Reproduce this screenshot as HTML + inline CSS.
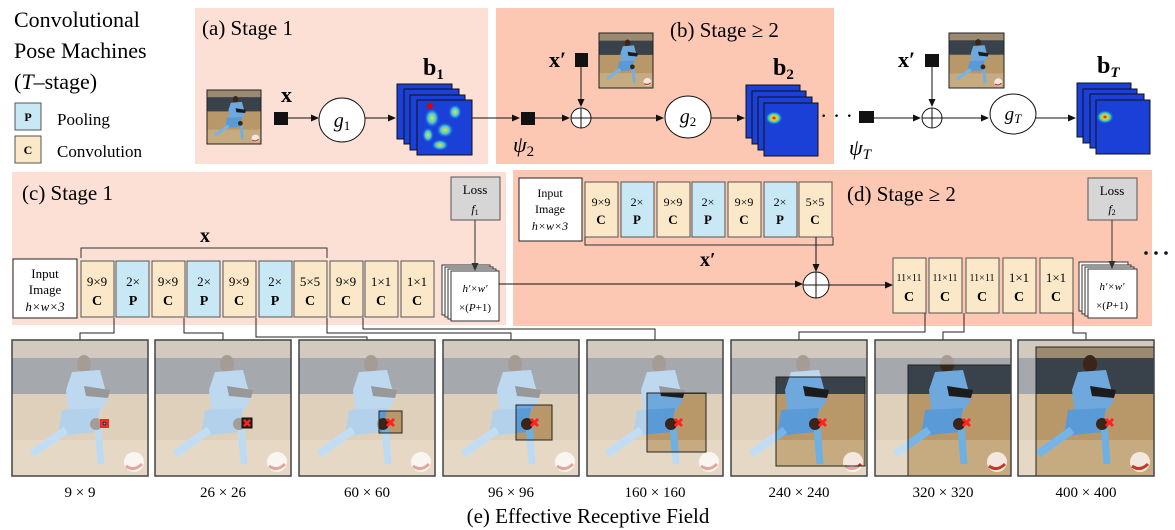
<!DOCTYPE html>
<html><head><meta charset="utf-8"><style>
html,body{margin:0;padding:0;background:#fff;}
svg{display:block;font-family:"Liberation Serif",serif;}
</style></head><body>
<svg width="1175" height="530" viewBox="0 0 1175 530" xmlns="http://www.w3.org/2000/svg">
<defs>
<symbol id="ph" viewBox="0 0 136 136">
<rect width="136" height="136" fill="#bf9f72"/>
<rect width="136" height="22" fill="#9c8a70"/>
<rect y="18" width="136" height="36" fill="#39424b"/>
<rect y="54" width="136" height="82" fill="#b89868"/>
<rect y="100" width="136" height="36" fill="#c6ab80"/>
<ellipse cx="72" cy="24" rx="7" ry="9" fill="#3a2518"/>
<polygon points="60,32 88,30 96,60 86,74 57,78 54,50" fill="#6ea8dc"/>
<polygon points="72,46 98,50 96,58 74,56" fill="#1c1c1c"/>
<polygon points="50,70 88,68 84,92 46,96" fill="#5a9ad6"/>
<line x1="54" y1="90" x2="20" y2="114" stroke="#74b4e6" stroke-width="8"/>
<line x1="86" y1="86" x2="89" y2="124" stroke="#6cb0e4" stroke-width="7"/>
<circle cx="84" cy="84" r="6" fill="#3a2518"/>
<circle cx="122" cy="122" r="10" fill="#f3e8df"/>
<path d="M114,126 Q122,132 130,124" stroke="#c23a2a" stroke-width="3" fill="none"/>
</symbol>
<radialGradient id="hot"><stop offset="0" stop-color="#c00000"/><stop offset=".3" stop-color="#ffd000"/><stop offset=".6" stop-color="#30d0d0"/><stop offset="1" stop-color="#1a40d8" stop-opacity="0"/></radialGradient>
<radialGradient id="cy"><stop offset="0" stop-color="#f0e030"/><stop offset=".5" stop-color="#40c8e0"/><stop offset="1" stop-color="#1a40d8" stop-opacity="0"/></radialGradient>
<marker id="ah" markerWidth="8" markerHeight="8" refX="7" refY="4" orient="auto" markerUnits="userSpaceOnUse"><path d="M0,0.5 L8,4 L0,7.5 Z" fill="#111"/></marker>
<marker id="ahg" markerWidth="8" markerHeight="8" refX="7" refY="4" orient="auto" markerUnits="userSpaceOnUse"><path d="M0,0.5 L8,4 L0,7.5 Z" fill="#333"/></marker>
</defs>

<!-- panels -->
<rect x="195" y="8" width="293" height="156" fill="#fcdfd5"/>
<rect x="496" y="8" width="338" height="156" fill="#fcc7b3"/>
<rect x="12" y="172" width="494" height="153" fill="#fcdfd5"/>
<rect x="513" y="170" width="639" height="156" fill="#fcc7b3"/>

<!-- title and legend -->
<text x="14" y="27" font-size="22">Convolutional</text>
<text x="14" y="58" font-size="22">Pose Machines</text>
<text x="14" y="89" font-size="22">(<tspan font-style="italic">T</tspan>–stage)</text>
<rect x="15" y="103" width="26" height="27" fill="#c8e8f5" stroke="#555"/>
<text x="28" y="121" font-size="12" font-weight="bold" text-anchor="middle">P</text>
<rect x="15" y="136" width="26" height="27" fill="#fbe8c8" stroke="#555"/>
<text x="28" y="154" font-size="12" font-weight="bold" text-anchor="middle">C</text>
<text x="57" y="125" font-size="17">Pooling</text>
<text x="57" y="157" font-size="17">Convolution</text>

<!-- (a) -->
<text x="202" y="35" font-size="21">(a) Stage 1</text>
<use href="#ph" x="207" y="90" width="54" height="54"/>
<rect x="207" y="90" width="54" height="54" fill="none" stroke="#222"/>
<text x="281" y="102" font-size="22" font-weight="bold">x</text>
<rect x="274" y="112" width="14" height="13" fill="#111"/>
<line x1="288" y1="118" x2="318" y2="118" stroke="#111" marker-end="url(#ah)"/>
<ellipse cx="342" cy="120" rx="23" ry="22" fill="#fff" stroke="#111"/>
<text x="342" y="127" font-size="20" font-style="italic" text-anchor="middle">g<tspan font-size="13" font-style="normal" dy="3">1</tspan></text>
<line x1="365" y1="118" x2="395" y2="118" stroke="#111" marker-end="url(#ah)"/>
<g stroke="#111">
<rect x="397" y="84" width="55" height="55" fill="#1a40d8"/>
<rect x="404" y="89" width="55" height="55" fill="#1a40d8"/>
<rect x="410" y="95" width="55" height="55" fill="#1a40d8"/>
<rect x="417" y="100" width="55" height="55" fill="#1a40d8"/>
</g>
<g fill="url(#cy)"><ellipse cx="432" cy="118" rx="8" ry="10"/><ellipse cx="445" cy="130" rx="9" ry="8"/><ellipse cx="455" cy="112" rx="7" ry="8"/><ellipse cx="440" cy="145" rx="9" ry="6"/><ellipse cx="428" cy="135" rx="6" ry="8"/></g>
<circle cx="430" cy="106" r="3" fill="#d00"/>
<text x="423" y="75" font-size="24" font-weight="bold">b<tspan font-size="15" dy="4">1</tspan></text>
<line x1="472" y1="118" x2="519" y2="118" stroke="#111" marker-end="url(#ah)"/>

<!-- (b) -->
<rect x="521" y="112" width="14" height="13" fill="#111"/>
<text x="513" y="152" font-size="22" font-style="italic">ψ<tspan font-size="15" font-style="normal" dy="4">2</tspan></text>
<line x1="535" y1="118" x2="569" y2="118" stroke="#111" marker-end="url(#ah)"/>
<text x="549" y="67" font-size="22" font-weight="bold">x′</text>
<rect x="575" y="53" width="13" height="14" fill="#111"/>
<line x1="581" y1="67" x2="581" y2="106" stroke="#111" marker-end="url(#ah)"/>
<circle cx="581" cy="118" r="10" fill="#fff" stroke="#111"/>
<path d="M571,118H591M581,108V128" stroke="#111"/>
<use href="#ph" x="599" y="33" width="54" height="55"/>
<rect x="599" y="33" width="54" height="55" fill="none" stroke="#222"/>
<text x="670" y="37" font-size="21">(b) Stage ≥ 2</text>
<line x1="591" y1="118" x2="663" y2="118" stroke="#111" marker-end="url(#ah)"/>
<ellipse cx="688" cy="117" rx="23" ry="21" fill="#fff" stroke="#111"/>
<text x="688" y="123" font-size="20" font-style="italic" text-anchor="middle">g<tspan font-size="13" font-style="normal" dy="3">2</tspan></text>
<line x1="711" y1="118" x2="744" y2="118" stroke="#111" marker-end="url(#ah)"/>
<g stroke="#111">
<rect x="746" y="85" width="54" height="53" fill="#1a40d8"/>
<rect x="752" y="91" width="54" height="53" fill="#1a40d8"/>
<rect x="758" y="97" width="54" height="53" fill="#1a40d8"/>
<rect x="764" y="103" width="54" height="53" fill="#1a40d8"/>
</g>
<ellipse cx="774" cy="118" rx="9" ry="7" fill="url(#hot)"/>
<text x="773" y="75" font-size="24" font-weight="bold">b<tspan font-size="15" dy="4">2</tspan></text>
<text x="820" y="123" font-size="22">· · ·</text>
<rect x="859" y="111" width="15" height="12" fill="#111"/>
<text x="849" y="155" font-size="22" font-style="italic">ψ<tspan font-size="15" dy="4">T</tspan></text>
<line x1="874" y1="118" x2="920" y2="118" stroke="#111" marker-end="url(#ah)"/>
<text x="898" y="67" font-size="22" font-weight="bold">x′</text>
<rect x="925" y="54" width="14" height="13" fill="#111"/>
<line x1="932" y1="67" x2="932" y2="106" stroke="#111" marker-end="url(#ah)"/>
<circle cx="932" cy="118" r="10" fill="#fff" stroke="#111"/>
<path d="M922,118H942M932,108V128" stroke="#111"/>
<use href="#ph" x="949" y="33" width="55" height="55"/>
<rect x="949" y="33" width="55" height="55" fill="none" stroke="#222"/>
<line x1="942" y1="118" x2="988" y2="118" stroke="#111" marker-end="url(#ah)"/>
<ellipse cx="1013" cy="114" rx="23" ry="20" fill="#fff" stroke="#111"/>
<text x="1013" y="120" font-size="19" font-style="italic" text-anchor="middle">g<tspan font-size="13" dy="3">T</tspan></text>
<line x1="1036" y1="118" x2="1075" y2="118" stroke="#111" marker-end="url(#ah)"/>
<g stroke="#111">
<rect x="1077" y="83" width="54" height="54" fill="#1a40d8"/>
<rect x="1083" y="89" width="54" height="54" fill="#1a40d8"/>
<rect x="1090" y="94" width="54" height="54" fill="#1a40d8"/>
<rect x="1096" y="100" width="54" height="54" fill="#1a40d8"/>
</g>
<ellipse cx="1105" cy="117" rx="9" ry="7" fill="url(#hot)"/>
<text x="1097" y="73" font-size="24" font-weight="bold">b<tspan font-size="15" font-style="italic" dy="4">T</tspan></text>

<!-- (c) -->
<text x="22" y="200" font-size="21">(c) Stage 1</text>
<rect x="13" y="259" width="64" height="59" fill="#fff" stroke="#222"/>
<g font-size="13" text-anchor="middle">
<text x="45" y="278">Input</text><text x="45" y="294">Image</text><text x="45" y="311" font-style="italic">h×w×3</text>
</g>
<g stroke="#555">
<rect x="81" y="261" width="33" height="56" fill="#fbe8c8"/>
<rect x="116" y="261" width="33" height="56" fill="#c8e8f5"/>
<rect x="152" y="261" width="33" height="56" fill="#fbe8c8"/>
<rect x="187" y="261" width="33" height="56" fill="#c8e8f5"/>
<rect x="223" y="261" width="33" height="56" fill="#fbe8c8"/>
<rect x="259" y="261" width="33" height="56" fill="#c8e8f5"/>
<rect x="294" y="261" width="33" height="56" fill="#fbe8c8"/>
<rect x="330" y="261" width="33" height="56" fill="#fbe8c8"/>
<rect x="365" y="261" width="33" height="56" fill="#fbe8c8"/>
<rect x="401" y="261" width="33" height="56" fill="#fbe8c8"/>
</g>
<g font-size="13" text-anchor="middle">
<text x="97" y="286">9×9</text><text x="133" y="286">2×</text><text x="168" y="286">9×9</text><text x="204" y="286">2×</text><text x="239" y="286">9×9</text><text x="275" y="286">2×</text><text x="310" y="286">5×5</text><text x="346" y="286">9×9</text><text x="381" y="286">1×1</text><text x="417" y="286">1×1</text>
</g>
<g font-size="14" font-weight="bold" text-anchor="middle">
<text x="97" y="305">C</text><text x="133" y="305">P</text><text x="168" y="305">C</text><text x="204" y="305">P</text><text x="239" y="305">C</text><text x="275" y="305">P</text><text x="310" y="305">C</text><text x="346" y="305">C</text><text x="381" y="305">C</text><text x="417" y="305">C</text>
</g>
<path d="M81,258V248H327V258" fill="none" stroke="#333"/>
<text x="205" y="242" font-size="20" font-weight="bold" text-anchor="middle">x</text>
<g fill="#fff" stroke="#333">
<rect x="442" y="265" width="48" height="50"/><rect x="445" y="267" width="48" height="50"/><rect x="448" y="269" width="48" height="50"/><rect x="451" y="271" width="48" height="50"/>
</g>
<text x="475" y="292" font-size="11" font-style="italic" text-anchor="middle">h′×w′</text>
<text x="475" y="311" font-size="11" text-anchor="middle">×(<tspan font-style="italic">P</tspan>+1)</text>
<rect x="451" y="177" width="49" height="43" fill="#d6d6d6" stroke="#555"/>
<text x="475" y="194" font-size="13" text-anchor="middle">Loss</text>
<text x="475" y="213" font-size="12" font-style="italic" text-anchor="middle">f<tspan font-size="8" font-style="normal" dy="2">1</tspan></text>
<line x1="475" y1="220" x2="475" y2="270" stroke="#333" marker-end="url(#ahg)"/>

<!-- (d) -->
<text x="847" y="201" font-size="21">(d) Stage ≥ 2</text>
<rect x="519" y="178" width="63" height="63" fill="#fff" stroke="#222"/>
<g font-size="12" text-anchor="middle">
<text x="550" y="197">Input</text><text x="550" y="213">Image</text><text x="550" y="230" font-style="italic">h×w×3</text>
</g>
<g stroke="#555">
<rect x="585" y="182" width="33" height="55" fill="#fbe8c8"/>
<rect x="621" y="182" width="33" height="55" fill="#c8e8f5"/>
<rect x="657" y="182" width="33" height="55" fill="#fbe8c8"/>
<rect x="692" y="182" width="33" height="55" fill="#c8e8f5"/>
<rect x="728" y="182" width="33" height="55" fill="#fbe8c8"/>
<rect x="764" y="182" width="33" height="55" fill="#c8e8f5"/>
<rect x="799" y="182" width="33" height="55" fill="#fbe8c8"/>
</g>
<g font-size="12" text-anchor="middle">
<text x="601" y="206">9×9</text><text x="637" y="206">2×</text><text x="673" y="206">9×9</text><text x="708" y="206">2×</text><text x="744" y="206">9×9</text><text x="780" y="206">2×</text><text x="815" y="206">5×5</text>
</g>
<g font-size="13" font-weight="bold" text-anchor="middle">
<text x="601" y="224">C</text><text x="637" y="224">P</text><text x="673" y="224">C</text><text x="708" y="224">P</text><text x="744" y="224">C</text><text x="780" y="224">P</text><text x="815" y="224">C</text>
</g>
<path d="M585,237V245H833V237" fill="none" stroke="#333"/>
<text x="700" y="266" font-size="20" font-weight="bold">x′</text>
<line x1="816" y1="237" x2="816" y2="271" stroke="#111" marker-end="url(#ah)"/>
<line x1="499" y1="284" x2="802" y2="284" stroke="#111" marker-end="url(#ah)"/>
<circle cx="816" cy="285" r="13" fill="#fff" stroke="#111"/>
<path d="M803,285H829M816,272V298" stroke="#111"/>
<line x1="829" y1="285" x2="892" y2="285" stroke="#111" marker-end="url(#ah)"/>
<g stroke="#555" fill="#fbe8c8">
<rect x="893" y="258" width="33" height="55"/><rect x="929" y="258" width="33" height="55"/><rect x="966" y="258" width="33" height="55"/><rect x="1003" y="258" width="33" height="55"/><rect x="1040" y="258" width="33" height="55"/>
</g>
<g font-size="10" text-anchor="middle">
<text x="909" y="281">11×11</text><text x="945" y="281">11×11</text><text x="982" y="281">11×11</text>
</g>
<g font-size="13" text-anchor="middle"><text x="1019" y="282">1×1</text><text x="1056" y="282">1×1</text></g>
<g font-size="14" font-weight="bold" text-anchor="middle">
<text x="909" y="301">C</text><text x="945" y="301">C</text><text x="982" y="301">C</text><text x="1019" y="301">C</text><text x="1056" y="301">C</text>
</g>
<g fill="#fff" stroke="#333">
<rect x="1079" y="262" width="49" height="49"/><rect x="1082" y="265" width="49" height="49"/><rect x="1085" y="267" width="49" height="49"/><rect x="1088" y="269" width="49" height="49"/>
</g>
<text x="1112" y="290" font-size="11" font-style="italic" text-anchor="middle">h′×w′</text>
<text x="1112" y="309" font-size="11" text-anchor="middle">×(<tspan font-style="italic">P</tspan>+1)</text>
<rect x="1088" y="178" width="49" height="42" fill="#d6d6d6" stroke="#555"/>
<text x="1112" y="195" font-size="13" text-anchor="middle">Loss</text>
<text x="1112" y="213" font-size="12" font-style="italic" text-anchor="middle">f<tspan font-size="8" font-style="normal" dy="2">2</tspan></text>
<line x1="1112" y1="220" x2="1112" y2="268" stroke="#333" marker-end="url(#ahg)"/>
<g fill="#111"><circle cx="1146" cy="253" r="1.8"/><circle cx="1156" cy="253" r="1.8"/><circle cx="1166" cy="253" r="1.8"/></g>

<!-- connectors -->
<g fill="none" stroke="#222">
<path d="M114,318V333H80V340"/>
<path d="M184,318V333H223V340"/>
<path d="M256,318V337H367V340"/>
<path d="M327,318V333H511V340"/>
<path d="M363,318V329H655V340"/>
<path d="M925,313V332H799V340"/>
<path d="M964,313V332H943V340"/>
<path d="M1073,313V333H1086V340"/>
</g>

<!-- photos -->
<g transform="translate(12,340)"><use href="#ph" width="136" height="136"/><path d="M0,0H136V136H0Z M89,80h7v7h-7Z" fill="#fff" fill-opacity=".55" fill-rule="evenodd"/><rect x="89" y="80" width="7" height="7" fill="none" stroke="#f22" stroke-width="2"/><rect x="91" y="82" width="3" height="3" fill="none" stroke="#111"/><rect width="136" height="136" fill="none" stroke="#444" stroke-width="1.5"/></g>
<g transform="translate(155,340)"><use href="#ph" width="136" height="136"/><path d="M0,0H136V136H0Z M87,78h10v10h-10Z" fill="#fff" fill-opacity=".55" fill-rule="evenodd"/><rect x="87" y="78" width="10" height="10" fill="#222" stroke="#111"/><path d="M89,80l6,6M95,80l-6,6" stroke="#f22" stroke-width="2.5"/><rect width="136" height="136" fill="none" stroke="#444" stroke-width="1.5"/></g>
<g transform="translate(299,340)"><use href="#ph" width="136" height="136"/><path d="M0,0H136V136H0Z M80,71h23v22h-23Z" fill="#fff" fill-opacity=".55" fill-rule="evenodd"/><rect x="80" y="71" width="23" height="22" fill="none" stroke="#222"/><path d="M88,79l7,7M95,79l-7,7" stroke="#f22" stroke-width="3"/><rect width="136" height="136" fill="none" stroke="#444" stroke-width="1.5"/></g>
<g transform="translate(443,340)"><use href="#ph" width="136" height="136"/><path d="M0,0H136V136H0Z M73,65h36v35h-36Z" fill="#fff" fill-opacity=".55" fill-rule="evenodd"/><rect x="73" y="65" width="36" height="35" fill="none" stroke="#222"/><path d="M88,79l7,7M95,79l-7,7" stroke="#f22" stroke-width="3"/><rect width="136" height="136" fill="none" stroke="#444" stroke-width="1.5"/></g>
<g transform="translate(587,340)"><use href="#ph" width="136" height="136"/><path d="M0,0H136V136H0Z M60,53h59v59h-59Z" fill="#fff" fill-opacity=".55" fill-rule="evenodd"/><rect x="60" y="53" width="59" height="59" fill="none" stroke="#222"/><path d="M88,79l7,7M95,79l-7,7" stroke="#f22" stroke-width="3"/><rect width="136" height="136" fill="none" stroke="#444" stroke-width="1.5"/></g>
<g transform="translate(731,340)"><use href="#ph" width="136" height="136"/><path d="M0,0H136V136H0Z M45,37h89v89h-89Z" fill="#fff" fill-opacity=".55" fill-rule="evenodd"/><rect x="45" y="37" width="89" height="89" fill="none" stroke="#222"/><path d="M88,79l7,7M95,79l-7,7" stroke="#f22" stroke-width="3"/><rect width="136" height="136" fill="none" stroke="#444" stroke-width="1.5"/></g>
<g transform="translate(875,340)"><use href="#ph" width="136" height="136"/><path d="M0,0H136V136H0Z M33,25h103v111h-103Z" fill="#fff" fill-opacity=".55" fill-rule="evenodd"/><rect x="33" y="25" width="103" height="111" fill="none" stroke="#222"/><path d="M88,79l7,7M95,79l-7,7" stroke="#f22" stroke-width="3"/><rect width="136" height="136" fill="none" stroke="#444" stroke-width="1.5"/></g>
<g transform="translate(1018,340)"><use href="#ph" width="136" height="136"/><path d="M0,0H136V136H0Z M18,7h118v129h-118Z" fill="#fff" fill-opacity=".55" fill-rule="evenodd"/><rect x="18" y="7" width="118" height="129" fill="none" stroke="#222"/><path d="M88,79l7,7M95,79l-7,7" stroke="#f22" stroke-width="3"/><rect width="136" height="136" fill="none" stroke="#444" stroke-width="1.5"/></g>

<g font-size="15" text-anchor="middle">
<text x="80" y="497">9 × 9</text><text x="223" y="497">26 × 26</text><text x="367" y="497">60 × 60</text><text x="511" y="497">96 × 96</text><text x="655" y="497">160 × 160</text><text x="799" y="497">240 × 240</text><text x="943" y="497">320 × 320</text><text x="1086" y="497">400 × 400</text>
</g>
<text x="588" y="523" font-size="21" text-anchor="middle">(e) Effective Receptive Field</text>
</svg>
</body></html>
